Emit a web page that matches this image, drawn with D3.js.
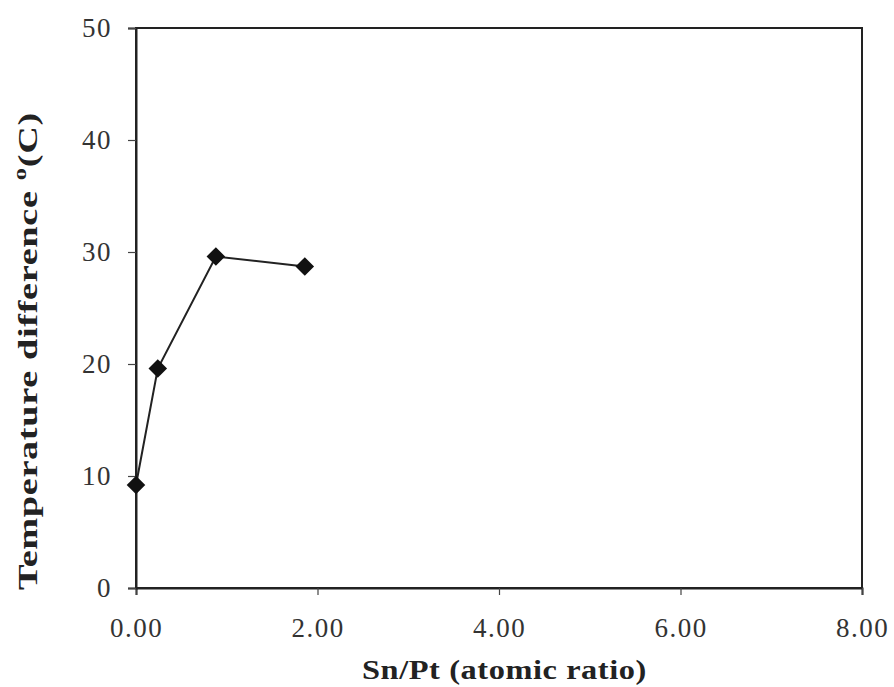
<!DOCTYPE html>
<html>
<head>
<meta charset="utf-8">
<script src="https://cdn.jsdelivr.net/npm/d3@7"></script>
<style>
  body { margin: 0; background: #fff; }
  svg { display: block; }
</style>
</head>
<body>
<svg id="chart" width="894" height="687"></svg>
<script>
const snPt = [0.0, 0.24, 0.88, 1.86];
const tempDiff = [9.2, 19.6, 29.6, 28.7];
const xTicks = [0, 2, 4, 6, 8];
const yTicks = [0, 10, 20, 30, 40, 50];

const svg = d3.select("#chart");
const margin = { left: 136, top: 28, right: 32, bottom: 99 };
const width = +svg.attr("width");
const height = +svg.attr("height");

const x = d3.scaleLinear().domain([0, 8]).range([margin.left, width - margin.right]);
const y = d3.scaleLinear().domain([0, 50]).range([height - margin.bottom, margin.top]);

const font = "'Liberation Serif', 'Times New Roman', serif";

// frame
svg.append("rect")
  .attr("x", x(0)).attr("y", y(50))
  .attr("width", x(8) - x(0)).attr("height", y(0) - y(50))
  .attr("fill", "none").attr("stroke", "#222").attr("stroke-width", 2);

const xAxis = svg.append("g")
  .attr("transform", `translate(0,${y(0)})`)
  .call(d3.axisBottom(x).tickValues(xTicks).tickFormat(d3.format(".2f")).tickSize(7).tickPadding(23));

const yAxis = svg.append("g")
  .attr("transform", `translate(${x(0)},0)`)
  .call(d3.axisLeft(y).tickValues(yTicks).tickSize(8).tickPadding(16));

[xAxis, yAxis].forEach(a => {
  a.attr("font-family", font).attr("font-size", 27);
  a.select(".domain").attr("stroke", "#222").attr("stroke-width", 2);
  a.selectAll(".tick line").attr("stroke", "#444").attr("stroke-width", 1.2);
  a.selectAll(".tick text")
    .attr("fill", "#333")
    .attr("letter-spacing", 1.5);
});

// data line
const pts = snPt.map((d, i) => [d, tempDiff[i]]);
svg.append("path")
  .datum(pts)
  .attr("fill", "none")
  .attr("stroke", "#222")
  .attr("stroke-width", 2)
  .attr("d", d3.line().x(d => x(d[0])).y(d => y(d[1])));

svg.selectAll(".pt")
  .data(pts)
  .enter()
  .append("path")
  .attr("class", "pt")
  .attr("transform", d => `translate(${x(d[0])},${y(d[1])})`)
  .attr("d", d3.symbol().type(d3.symbolDiamond2).size(220))
  .attr("fill", "#111");

// widen a title along its own direction so it covers the target length
function fitText(t, base, target) {
  const w = t.node().getComputedTextLength();
  t.attr("transform", `${base} scale(${target / w},1)`);
}

// axis titles
const xt = svg.append("text")
  .attr("font-family", font)
  .attr("font-weight", "bold")
  .attr("font-size", 28)
  .attr("letter-spacing", 0.5)
  .attr("fill", "#222")
  .text("Sn/Pt (atomic ratio)");
fitText(xt, "translate(362,679)", 285);

const yt = svg.append("text")
  .attr("font-family", font)
  .attr("font-weight", "bold")
  .attr("font-size", 28)
  .attr("letter-spacing", 0.5)
  .attr("fill", "#222");
yt.append("tspan").text("Temperature difference ");
yt.append("tspan").attr("dy", -11).attr("font-size", 18).text("o");
yt.append("tspan").attr("dy", 11).text("(C)");
fitText(yt, "translate(37,590) rotate(-90)", 478);
</script>
</body>
</html>
